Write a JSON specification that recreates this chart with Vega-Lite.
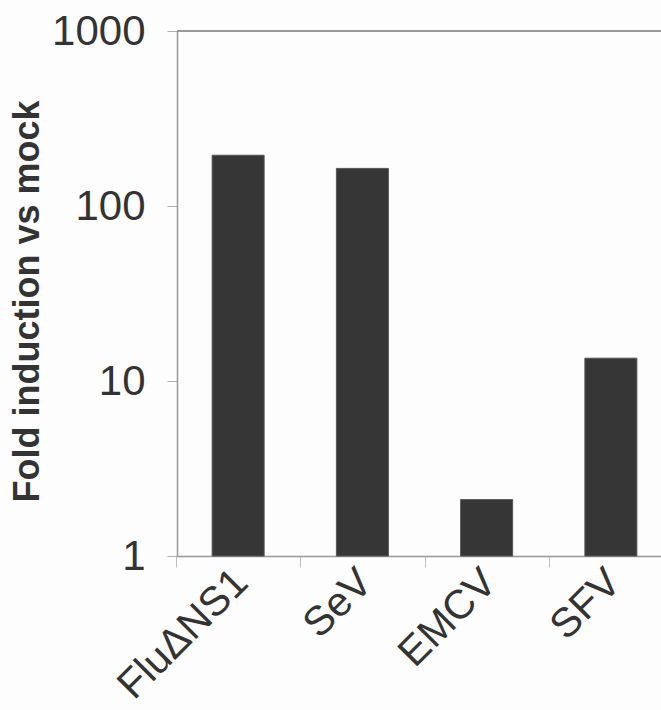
{
  "$schema": "https://vega.github.io/schema/vega-lite/v6.json",
  "autosize": {"type": "none"},
  "padding": {"left": 177, "top": 31, "right": 0, "bottom": 154},
  "width": 484,
  "height": 525,
  "background": "#fdfdfd",
  "config": {
    "font": "Liberation Sans",
    "view": {"stroke": null}
  },
  "data": {
    "values": [
      {"virus": "FluΔNS1", "fold": 195},
      {"virus": "SeV", "fold": 164},
      {"virus": "EMCV", "fold": 2.1},
      {"virus": "SFV", "fold": 13.5}
    ]
  },
  "layer": [
    {
      "mark": {"type": "bar", "size": 52, "color": "#363636", "stroke": "#555555", "strokeWidth": 1},
      "encoding": {
        "x": {
          "field": "virus",
          "type": "nominal",
          "sort": null,
          "scale": {"range": [-1, 496], "paddingInner": 0, "paddingOuter": 0},
          "axis": {
            "title": null,
            "labelAngle": -45,
            "labelAlign": "right",
            "labelBaseline": "middle",
            "labelFontSize": 41,
            "labelColor": "#333333",
            "labelPadding": 9,
            "labelOffset": 3,
            "tickBand": "extent",
            "tickSize": 11,
            "tickColor": "#c0c0c0",
            "domainColor": "#999999",
            "domainWidth": 1.5
          }
        },
        "y": {
          "field": "fold",
          "type": "quantitative",
          "scale": {"type": "log", "domain": [1, 1000], "nice": false},
          "axis": {
            "title": "Fold induction vs mock",
            "titleFontSize": 36,
            "titleFontWeight": "bold",
            "titleColor": "#333333",
            "titlePadding": 5,
            "titleY": 270,
            "values": [1, 10, 100, 1000],
            "format": "d",
            "labelFontSize": 42,
            "labelColor": "#333333",
            "labelPadding": 22,
            "tickSize": 10,
            "tickColor": "#b0b0b0",
            "domainColor": "#999999",
            "domainWidth": 1.5,
            "grid": false
          }
        },
        "y2": {"datum": 1}
      }
    },
    {
      "mark": {"type": "rule", "color": "#999999", "strokeWidth": 1.5},
      "encoding": {"y": {"datum": 1000}}
    }
  ]
}
